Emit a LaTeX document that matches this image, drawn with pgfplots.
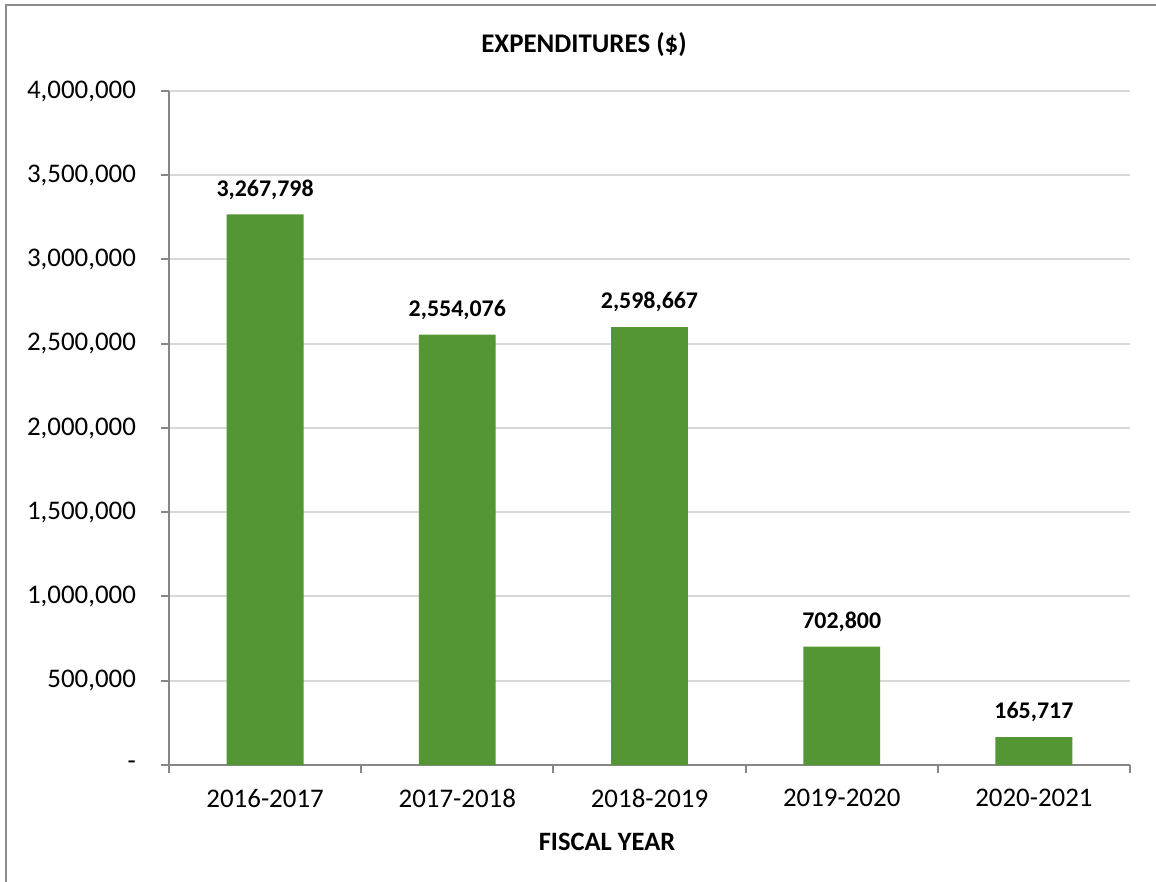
\documentclass[border=0pt]{standalone}
\usepackage{pgfplots}
\pgfplotsset{compat=1.18}
\usepackage{pgfplotstable}
\usepackage{fontspec}
\setmainfont{Carlito}
\definecolor{bargreen}{RGB}{84,150,52}
\definecolor{gridgray}{RGB}{217,217,217}
\definecolor{axisgray}{RGB}{134,134,134}
\definecolor{framegray}{RGB}{140,140,140}

\pgfplotstableread{
x y label
0 3267798 3,267,798
1 2554076 2,554,076
2 2598667 2,598,667
3 702800 702,800
4 165717 165,717
}\datatable

\begin{document}
\begin{tikzpicture}
\useasboundingbox (0,0) rectangle (578bp,441bp);
\draw[framegray, line width=1bp] (3bp,0) -- (3bp,438.5bp) -- (578bp,438.5bp);
\begin{axis}[
  at={(84.5bp,58.5bp)}, anchor=south west,
  scale only axis, width=480.5bp, height=337bp,
  xmin=-0.5, xmax=4.5, ymin=0, ymax=4000000,
  axis lines*=left,
  axis line style={axisgray, line width=1bp},
  xtick={0,...,4},
  xticklabels={2016-2017,2017-2018,2018-2019,2019-2020,2020-2021},
  major x tick style={draw=none},
  minor xtick={-0.5,0.5,...,4.5},
  ytick={0,500000,...,4000000},
  yticklabels={{-},{500,000},{1,000,000},{1,500,000},{2,000,000},{2,500,000},{3,000,000},{3,500,000},{4,000,000}},
  tick align=outside,
  major tick length=4bp, minor tick length=4bp,
  tick style={axisgray, line width=1bp},
  ymajorgrids, grid style={gridgray, line width=1bp},
  scaled y ticks=false,
  ticklabel style={font=\fontsize{13.5}{16}\selectfont, text=black},
  yticklabel style={xshift=-9bp},
  xticklabel style={yshift=-4.5bp},
  ybar, bar width=0.4,
  nodes near coords, point meta=explicit symbolic,
  nodes near coords style={font=\bfseries\fontsize{12}{14}\selectfont, text=black, yshift=4bp},
  clip=false,
]
\addplot[fill=bargreen, draw=none] table[x=x, y=y, meta=label] {\datatable};
\end{axis}
\node[font=\bfseries\fontsize{13.5}{16}\selectfont] at (292bp,418.5bp) {EXPENDITURES (\$)};
\node[font=\bfseries\fontsize{13.3}{16}\selectfont] at (303.5bp,20bp) {FISCAL YEAR};
\end{tikzpicture}
\end{document}
